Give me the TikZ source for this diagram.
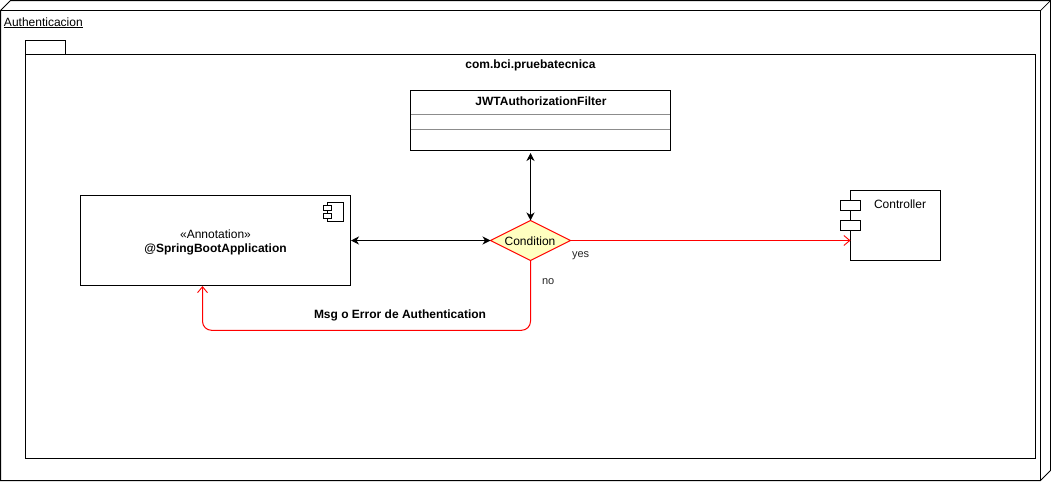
\documentclass[tikz,border=0pt]{standalone}
\usepackage{fontspec}
\setmainfont{Liberation Sans}
\usetikzlibrary{arrows.meta}
\definecolor{condfill}{HTML}{FFFFC0}
\tikzset{
  px/.style={x=1pt,y=-1pt,line width=1pt},
  outline/.style={draw=black,fill=white,line width=1pt},
  boxnode/.style={outline,inner sep=0pt,outer sep=0pt,rectangle,anchor=north west},
  caption/.style={inner sep=0pt,outer sep=0pt,font=\fontsize{12}{14}\selectfont,text=black,align=center},
  smallcaption/.style={inner sep=0pt,outer sep=0pt,font=\fontsize{11}{13}\selectfont,text=black!85},
  blackflow/.style={draw=black,line width=1pt,{Stealth[length=8pt,width=8pt,inset=2.5pt]}-{Stealth[length=8pt,width=8pt,inset=2.5pt]}},
  redflow/.style={draw=red,line width=1pt,-{Straight Barb[length=6pt,width=10pt,line width=.9pt]}},
  divider/.style={draw=black!45,line width=1pt},
}
\begin{document}
\begin{tikzpicture}[px]
\useasboundingbox (0,0) rectangle (1051,482);
\fill[white] (0,0) rectangle (1051,482);
% 3D node
\draw[outline] (0.5,10.5) -- (10.5,0.5) -- (1050.5,0.5) -- (1050.5,470.5) -- (1040.5,480.5) -- (0.5,480.5) -- cycle;
\draw[line width=1pt] (0.5,10.5) -- (1040.5,10.5) -- (1040.5,480.5);
\draw[line width=.7pt] (1040.5,10.5) -- (1050.5,0.5);
\node[smallcaption,anchor=base west,font=\fontsize{12}{14}\selectfont,text=black] (nodetitle) at (4,26) {\underline{Authenticacion}};
% package
\node[boxnode,minimum width=40pt,minimum height=14pt] (tab) at (25.5,40.5) {};
\node[boxnode,minimum width=1010pt,minimum height=403.5pt] (package) at (25.5,54.5) {};
\node[caption,anchor=base] (packagetitle) at (530.5,68.2) {\textbf{com.bci.pruebatecnica}};
% class
\node[boxnode,minimum width=260pt,minimum height=60pt] (filter) at (410.5,90.5) {};
\node[caption,anchor=base] (filtertitle) at (541,105) {\textbf{JWTAuthorizationFilter}};
\draw[divider] (410.5,114.5) -- (670.5,114.5);
\draw[divider] (410.5,129.5) -- (670.5,129.5);
\draw[line width=1pt] (filter.north west) rectangle (filter.south east);
% annotation component
\node[boxnode,minimum width=270pt,minimum height=90pt] (app) at (80.5,195.5) {};
\node[caption,anchor=center] (apptext) at (215.5,242.3) {«Annotation»\\[0pt]\textbf{@SpringBootApplication}};
\draw[line width=1pt] (327.5,202.5) rectangle (343.5,221.5);
\node[boxnode,minimum width=8pt,minimum height=5pt] (iconA) at (323.5,205.5) {};
\node[boxnode,minimum width=8pt,minimum height=5pt] (iconB) at (323.5,213.5) {};
% controller component
\node[boxnode,minimum width=90pt,minimum height=70pt] (ctrl) at (850.5,190.5) {};
\node[boxnode,minimum width=20pt,minimum height=10pt] (portA) at (840.5,200.5) {};
\node[boxnode,minimum width=20pt,minimum height=10pt] (portB) at (840.5,220.5) {};
\node[caption,anchor=base] (ctrltext) at (900,208) {Controller};
% decision
\node[inner sep=0pt,outer sep=0pt] (cond) at (530.5,240.5) {};
\coordinate (condT) at (530.5,220.5);
\coordinate (condB) at (530.5,260.5);
\coordinate (condL) at (490.5,240.5);
\coordinate (condR) at (570.5,240.5);
\draw[draw=red,fill=condfill,line width=1pt] (condT) -- (condR) -- (condB) -- (condL) -- cycle;
\node[caption,anchor=base] (condtext) at (530,245) {Condition};
% connectors
\coordinate (filterGap) at (530.5,153);
\coordinate (appR) at (351,240.5);
\coordinate (ctrlL) at (850.5,240.5);
\coordinate (appB) at (202.5,286);
\coordinate (c1) at (530.5,330.3);
\coordinate (c2) at (202.5,330.3);
\draw[blackflow] (filterGap) -- (condT);
\draw[blackflow] (appR) -- (condL);
\draw[redflow] (condR) -- (ctrlL);
\draw[redflow,rounded corners=9pt] (condB) -- (c1) -- (c2) -- (appB);
% labels
\node[smallcaption,anchor=base west] (yes) at (572,257) {yes};
\node[smallcaption,anchor=base west] (no) at (542,284) {no};
\node[caption,anchor=base] (errmsg) at (400,318) {\textbf{Msg o Error de Authentication}};
\end{tikzpicture}
\end{document}
